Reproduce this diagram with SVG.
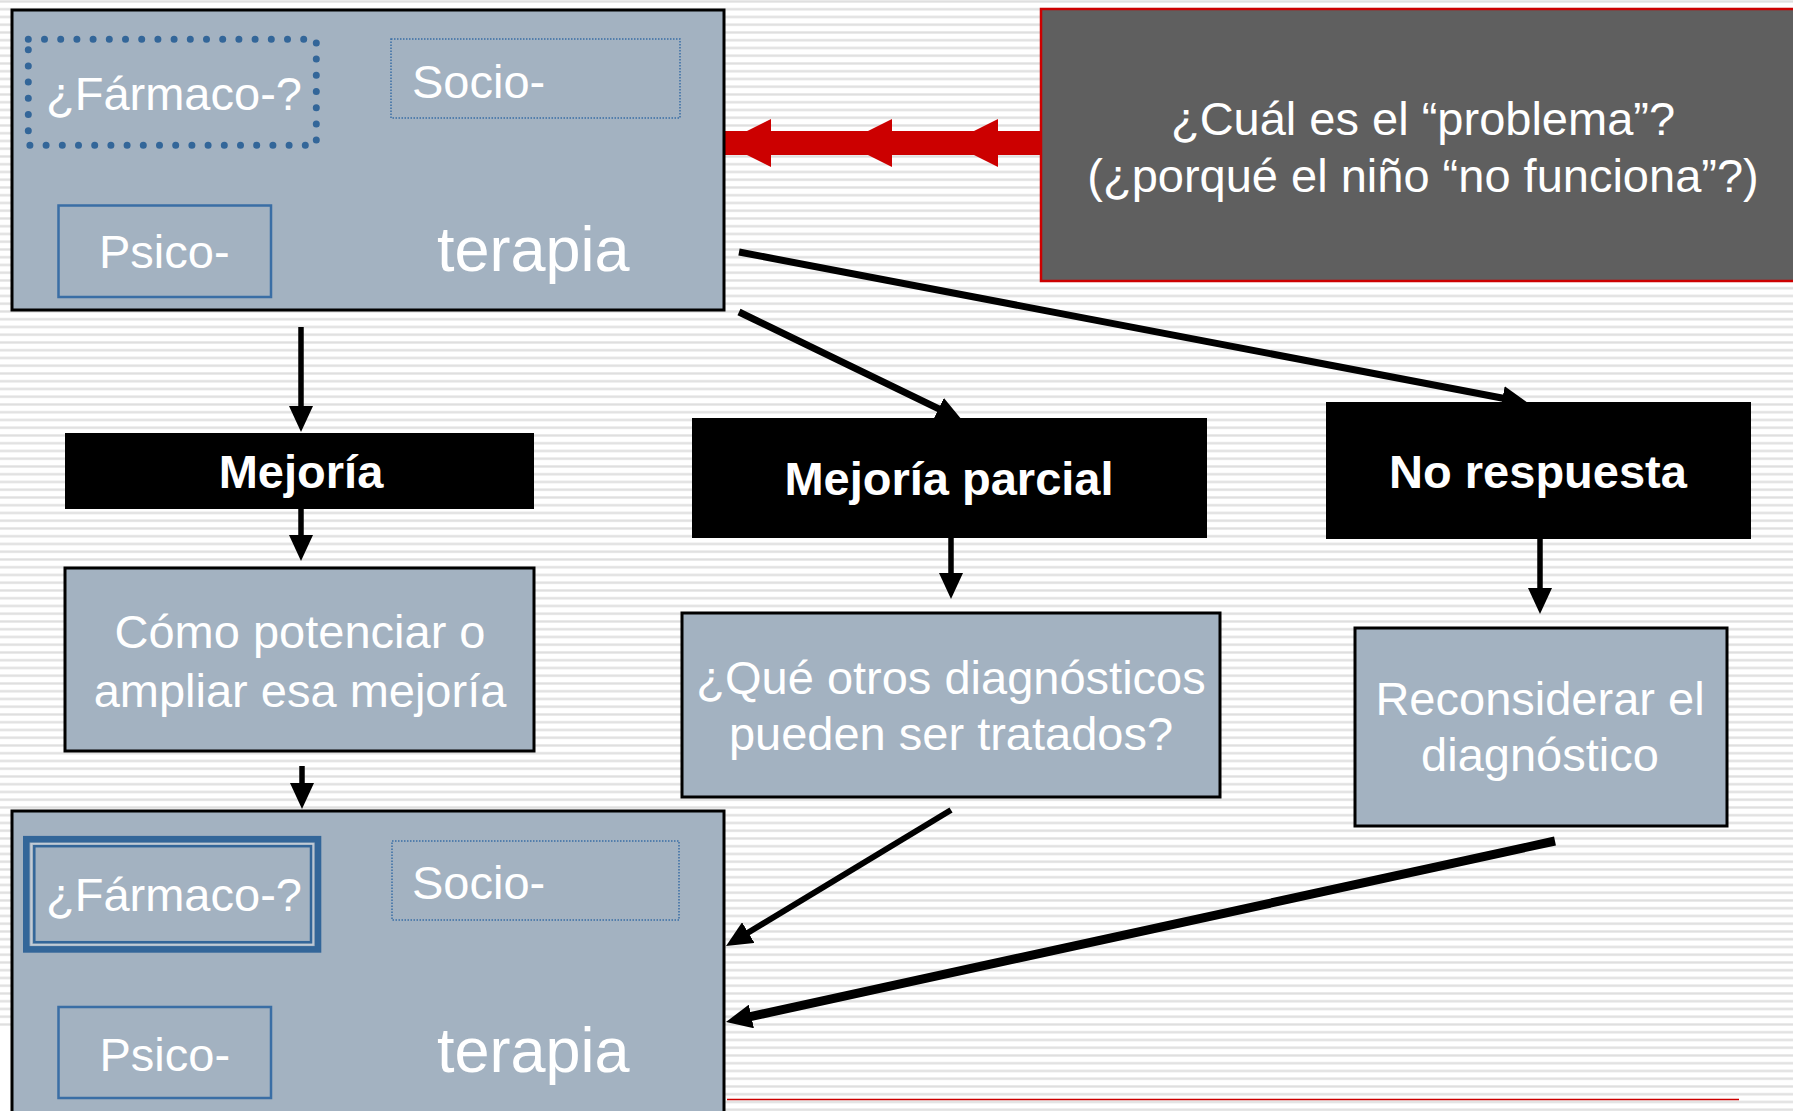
<svg xmlns="http://www.w3.org/2000/svg" width="1793" height="1111" viewBox="0 0 1793 1111">
<defs>
<pattern id="stripes" x="0" y="0" width="16" height="7.75" patternUnits="userSpaceOnUse">
<rect x="0" y="0" width="16" height="7.75" fill="#ffffff"/>
<rect x="0" y="0" width="16" height="1" fill="#e9e9e9"/>
<rect x="0" y="1" width="16" height="1.6" fill="#dedede"/>
</pattern>
<marker id="ah" markerUnits="userSpaceOnUse" markerWidth="26" markerHeight="24" refX="14" refY="12" orient="auto" viewBox="0 0 26 24">
<path d="M0,0 L26,12 L0,24 z" fill="#000"/>
</marker>
<style>
.box{fill:#a3b2c1;stroke:#000;stroke-width:3}
.blk{fill:#000}
.t{font-family:"Liberation Sans",Arial,sans-serif;font-size:47px;fill:#fff}
.b{font-weight:bold}
.mid{text-anchor:middle}
.ter{font-family:"Liberation Sans",Arial,sans-serif;font-size:63px;fill:#fff}
.dots{fill:none;stroke:#336699;stroke-width:7;stroke-linecap:round;stroke-dasharray:0 16.2}
.fine{fill:none;stroke:#3a6ea5;stroke-width:1.5;stroke-dasharray:1.5 1.5}
.solid{fill:none;stroke:#3a6ea5;stroke-width:2.5}
.con{fill:none;stroke:#000;stroke-width:5.5;marker-end:url(#ah)}
</style>
</defs>
<rect x="0" y="0" width="1793" height="1111" fill="url(#stripes)"/>
<rect x="0" y="1030" width="12" height="81" fill="#ffffff"/>
<line x1="727" y1="1099.5" x2="1739" y2="1099.5" stroke="#cc0000" stroke-width="1.5"/>

<g id="connectors">
<line class="con" x1="301" y1="327" x2="301" y2="420"/>
<line class="con" x1="301" y1="509" x2="301" y2="549"/>
<line class="con" x1="302" y1="766" x2="302" y2="797"/>
<line class="con" x1="951" y1="538" x2="951" y2="587"/>
<line class="con" x1="1540" y1="539" x2="1540" y2="602"/>
<line class="con" x1="739" y1="312" x2="951.2" y2="414.8" style="stroke-width:7"/>
<line class="con" x1="739" y1="252" x2="1516.2" y2="400.7" style="stroke-width:7"/>
<line class="con" x1="951" y1="810" x2="736.3" y2="939.8" style="stroke-width:6"/>
<line class="con" x1="1555" y1="841" x2="737.7" y2="1019.4" style="stroke-width:9"/>
<g id="red-arrow" fill="#cc0000">
<rect x="724" y="131" width="317" height="24"/>
<polygon points="771,119 771,167 723,143"/>
<polygon points="892,119 892,167 844,143"/>
<polygon points="998,119 998,167 950,143"/>
</g>
</g>

<g id="top-therapy">
<rect class="box" x="12" y="10" width="712" height="300"/>
<rect class="dots" x="28.3" y="39.3" width="288" height="106"/>
<text class="t" x="46" y="110">¿Fármaco-?</text>
<rect class="fine" x="391" y="39" width="289" height="79"/>
<text class="t" x="412" y="98">Socio-</text>
<rect class="solid" x="58.5" y="205.5" width="212.5" height="91.5"/>
<text class="t" x="99" y="268">Psico-</text>
<text class="ter" x="437" y="271">terapia</text>
</g>

<g id="problem">
<rect x="1041" y="9" width="770" height="272" fill="#5f5f5f" stroke="#cc0000" stroke-width="2.5"/>
<text class="t mid" x="1423" y="135">¿Cuál es el “problema”?</text>
<text class="t mid" x="1423" y="192">(¿porqué el niño “no funciona”?)</text>
</g>

<g id="mejoria">
<rect class="blk" x="65" y="433" width="469" height="76"/>
<text class="t b mid" x="301" y="488">Mejoría</text>
</g>

<g id="mejoria-parcial">
<rect class="blk" x="692" y="418" width="515" height="120"/>
<text class="t b mid" x="949" y="495">Mejoría parcial</text>
</g>

<g id="no-respuesta">
<rect class="blk" x="1326" y="402" width="425" height="137"/>
<text class="t b mid" x="1538" y="488">No respuesta</text>
</g>

<g id="potenciar">
<rect class="box" x="65" y="568" width="469" height="183"/>
<text class="t mid" x="300" y="648">Cómo potenciar o</text>
<text class="t mid" x="300" y="707">ampliar esa mejoría</text>
</g>

<g id="otros-diagnosticos">
<rect class="box" x="682" y="613" width="538" height="184"/>
<text class="t mid" x="951" y="694">¿Qué otros diagnósticos</text>
<text class="t mid" x="951" y="750">pueden ser tratados?</text>
</g>

<g id="reconsiderar">
<rect class="box" x="1355" y="628" width="372" height="198"/>
<text class="t mid" x="1540" y="715">Reconsiderar el</text>
<text class="t mid" x="1540" y="771">diagnóstico</text>
</g>

<g id="bottom-therapy">
<rect class="box" x="12" y="811" width="712" height="330"/>
<rect x="26.3" y="839.2" width="291.7" height="110.2" fill="none" stroke="#336699" stroke-width="6.6"/>
<rect x="31.3" y="843.8" width="281.7" height="101" fill="none" stroke="#c3cdd8" stroke-width="1.5"/>
<rect x="34.3" y="846.2" width="276.7" height="96" fill="none" stroke="#336699" stroke-width="2.5"/>
<text class="t" x="46" y="911">¿Fármaco-?</text>
<rect class="fine" x="392" y="841" width="287" height="79"/>
<text class="t" x="412" y="899">Socio-</text>
<rect class="solid" x="58.5" y="1007" width="212.5" height="91"/>
<text class="t" x="99.5" y="1071">Psico-</text>
<text class="ter" x="437" y="1072">terapia</text>
</g>
</svg>
